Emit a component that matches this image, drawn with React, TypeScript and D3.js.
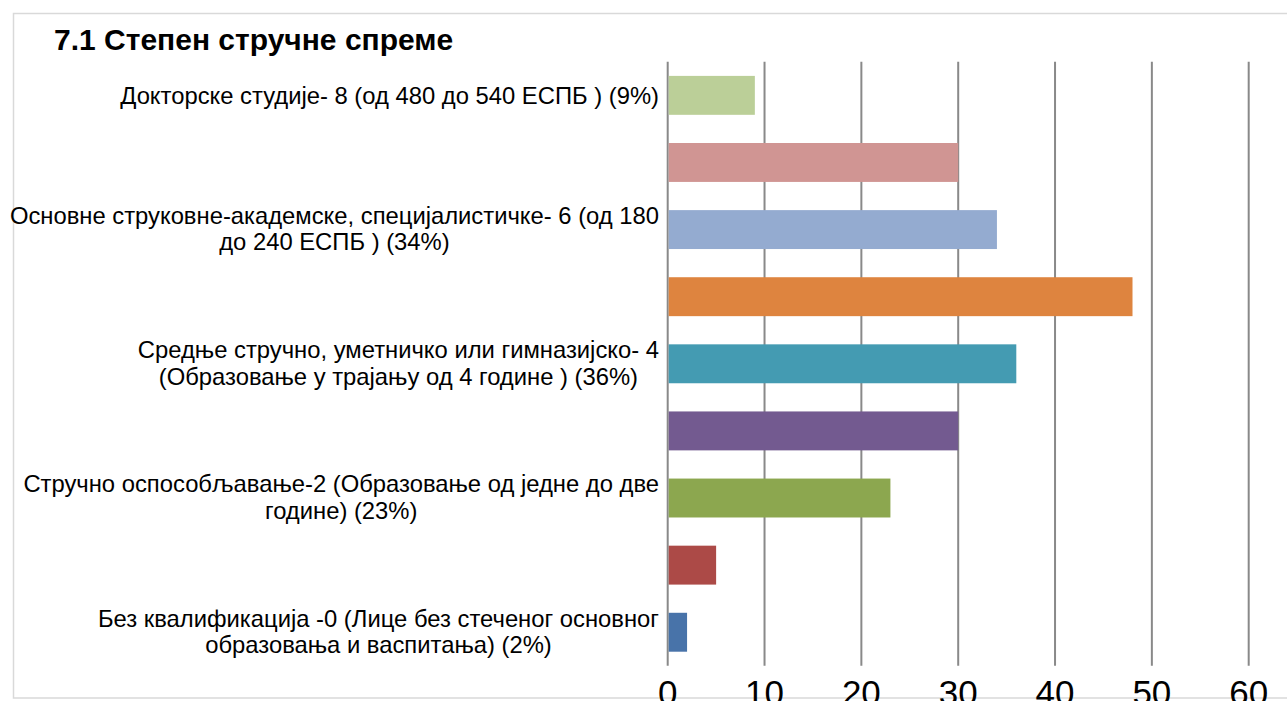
import React, { useEffect, useRef } from "react";
import * as d3 from "d3";

const title = "7.1 Степен стручне спреме";

// categories from bottom to top; empty arrays = labels skipped on the axis
const categoryLines: string[][] = [
  ["Без квалификација -0 (Лице без стеченог основног", "образовања и васпитања) (2%)"],
  [],
  ["Стручно оспособљавање-2 (Образовање од једне до две", "године) (23%)"],
  [],
  ["Средње стручно, уметничко или гимназијско- 4", "(Образовање у трајању од 4 године ) (36%)"],
  [],
  ["Основне струковне-академске, специјалистичке- 6 (од 180", "до 240 ЕСПБ ) (34%)"],
  [],
  ["Докторске студије- 8 (од 480 до 540 ЕСПБ ) (9%)"],
];
const values = [2, 5, 23, 30, 36, 48, 34, 30, 9];
const colors = [
  "#4873A9", "#AC4A47", "#8CA74F", "#735A90", "#449BB2",
  "#DE843F", "#94ABD0", "#D09593", "#BBCF98",
];
const tickValues = [0, 10, 20, 30, 40, 50, 60];

const FONT = "'Liberation Sans', Arial, sans-serif";

export default function App() {
  const ref = useRef<SVGSVGElement>(null);

  useEffect(() => {
    const svg = d3.select(ref.current as SVGSVGElement);
    svg.selectAll("*").remove();

    const W = 1287, H = 701;
    const plotLeft = 667.7, plotRight = 1248.7, plotTop = 61.8, plotBottom = 665.8;

    const x = d3.scaleLinear().domain([0, 60]).range([plotLeft, plotRight]);
    const idx = values.map((_, i) => i);
    const y = d3
      .scaleBand<number>()
      .domain(idx.slice().reverse())
      .range([plotTop, plotBottom])
      .paddingInner(0.42)
      .paddingOuter(0.21);

    svg.append("rect").attr("x", 0).attr("y", 0).attr("width", W).attr("height", H).attr("fill", "#fff");

    // chart border
    svg
      .append("rect")
      .attr("x", 13.5)
      .attr("y", 13.5)
      .attr("width", W + 20)
      .attr("height", 684.5)
      .attr("fill", "none")
      .attr("stroke", "#d9d9d9")
      .attr("stroke-width", 1.5);

    // title
    svg
      .append("text")
      .attr("x", 54)
      .attr("y", 50)
      .attr("font-family", FONT)
      .attr("font-weight", "bold")
      .attr("font-size", 30)
      .attr("fill", "#000")
      .text(title);

    // gridlines
    svg
      .append("g")
      .selectAll("line")
      .data(tickValues)
      .join("line")
      .attr("x1", (d) => x(d))
      .attr("x2", (d) => x(d))
      .attr("y1", plotTop)
      .attr("y2", plotBottom)
      .attr("stroke", "#898989")
      .attr("stroke-width", 2);

    // bars
    svg
      .append("g")
      .selectAll("rect")
      .data(idx)
      .join("rect")
      .attr("x", x(0) + 1)
      .attr("y", (i) => y(i)!)
      .attr("width", (i) => x(values[i]) - x(0) - 1)
      .attr("height", y.bandwidth())
      .attr("fill", (i) => colors[i]);

    // tick labels
    svg
      .append("g")
      .selectAll("text")
      .data(tickValues)
      .join("text")
      .attr("x", (d) => x(d))
      .attr("y", 705)
      .attr("text-anchor", "middle")
      .attr("font-family", FONT)
      .attr("font-size", 35)
      .attr("fill", "#000")
      .text((d) => String(d));

    // category labels
    const labelRight = 659;
    const fs = 23.8;
    const lineH = 26.5;
    const capHalf = (fs * 0.716) / 2;
    const lg = svg.append("g");
    idx.forEach((i) => {
      const lines = categoryLines[i];
      if (!lines.length) return;
      const cy = y(i)! + y.bandwidth() / 2;
      const texts = lines.map((ln, k) =>
        lg
          .append("text")
          .attr("font-family", FONT)
          .attr("font-size", fs)
          .attr("fill", "#000")
          .attr("text-anchor", "middle")
          .attr("y", cy + capHalf + (k - (lines.length - 1) / 2) * lineH - (lines.length > 1 ? 1 : 0))
          .text(ln)
      );
      const maxW = d3.max(texts, (t) => (t.node() as SVGTextElement).getComputedTextLength()) || 0;
      texts.forEach((t) => t.attr("x", labelRight - maxW / 2));
    });
  }, []);

  return (
    <svg
      ref={ref}
      width={1287}
      height={701}
      style={{ position: "absolute", left: 0, top: 0, display: "block" }}
    />
  );
}
